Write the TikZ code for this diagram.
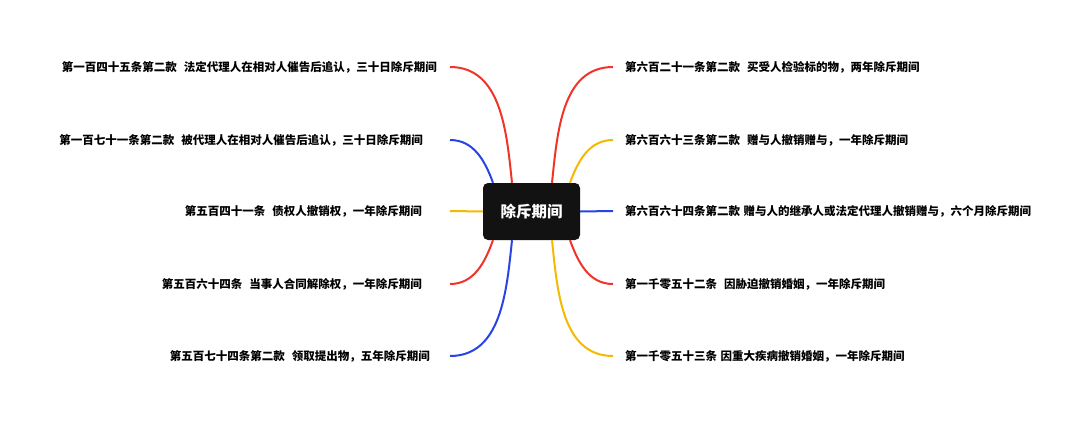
\documentclass[tikz,border=0pt]{standalone}
\usepackage{fontspec}
\setmainfont{Noto Sans CJK SC}
\definecolor{brred}{RGB}{240,52,40}
\definecolor{brblue}{RGB}{40,68,228}
\definecolor{bryellow}{RGB}{245,186,0}
\tikzset{
  hub/.style={fill=black!93, rounded corners=5pt, minimum width=97pt, minimum height=57pt,
    text=white, font=\fontsize{15.5}{18}\selectfont\bfseries},
  leftleaf/.style={anchor=east, inner ysep=2pt, font=\fontsize{11.5}{14}\selectfont\bfseries},
  rightleaf/.style={anchor=west, inner xsep=12pt, inner ysep=2pt, font=\fontsize{11.5}{14}\selectfont\bfseries},
  branch/.style={line width=2pt}
}
\begin{document}
\begin{tikzpicture}[x=1pt,y=1pt]
\useasboundingbox[fill=white] (0,0) rectangle (1080,-423);
\node[hub] (hub) at (531.5,-211.5) {除斥期间};

\node[leftleaf, inner xsep=13pt] (l1) at (450,-67) {第一百四十五条第二款\hspace{0.6em}法定代理人在相对人催告后追认，三十日除斥期间};
\node[leftleaf, inner xsep=27pt] (l2) at (450,-140) {第一百七十一条第二款\hspace{0.6em}被代理人在相对人催告后追认，三十日除斥期间};
\node[leftleaf, inner xsep=28pt] (l3) at (450,-211) {第五百四十一条\hspace{0.6em}债权人撤销权，一年除斥期间};
\node[leftleaf, inner xsep=28pt] (l4) at (450,-284) {第五百六十四条\hspace{0.6em}当事人合同解除权，一年除斥期间};
\node[leftleaf, inner xsep=20pt] (l5) at (450,-356) {第五百七十四条第二款\hspace{0.6em}领取提出物，五年除斥期间};

\node[rightleaf] (r1) at (613,-67) {第六百二十一条第二款\hspace{0.6em}买受人检验标的物，两年除斥期间};
\node[rightleaf] (r2) at (613,-140) {第六百六十三条第二款\hspace{0.6em}赠与人撤销赠与，一年除斥期间};
\node[rightleaf] (r3) at (613,-211) {第六百六十四条第二款\hspace{0.3em}赠与人的继承人或法定代理人撤销赠与，六个月除斥期间};
\node[rightleaf] (r4) at (613,-284) {第一千零五十二条\hspace{0.6em}因胁迫撤销婚姻，一年除斥期间};
\node[rightleaf] (r5) at (613,-356) {第一千零五十三条\hspace{0.3em}因重大疾病撤销婚姻，一年除斥期间};

% left side
\draw[branch, brred] ([xshift=-19.5pt]hub.north) to[out=96, in=0] (l1.east);
\draw[branch, brblue] ([xshift=-38.5pt]hub.north) to[out=110, in=0] (l2.east);
\draw[branch, bryellow] (hub.west) -- (l3.east);
\draw[branch, brred] ([xshift=-38.5pt]hub.south) to[out=-110, in=0] (l4.east);
\draw[branch, brblue] ([xshift=-19.5pt]hub.south) to[out=-96, in=0] (l5.east);

% right side
\draw[branch, brred] ([xshift=20.5pt]hub.north) to[out=84, in=180] (r1.west);
\draw[branch, bryellow] ([xshift=38.5pt]hub.north) to[out=70, in=180] (r2.west);
\draw[branch, brblue] (hub.east) -- (r3.west);
\draw[branch, brred] ([xshift=38.5pt]hub.south) to[out=-70, in=180] (r4.west);
\draw[branch, bryellow] ([xshift=20.5pt]hub.south) to[out=-84, in=180] (r5.west);
\end{tikzpicture}
\end{document}
